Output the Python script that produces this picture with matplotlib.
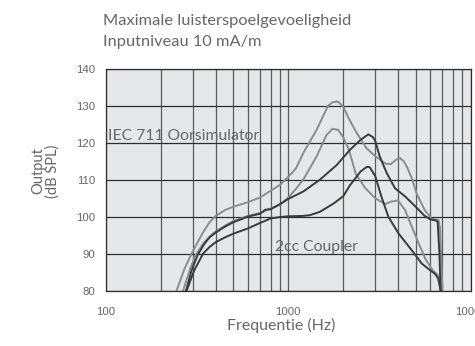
import matplotlib
matplotlib.use('Agg')
import matplotlib.pyplot as plt
from matplotlib.ticker import FixedLocator, NullFormatter

# IEC 711 Oorsimulator - bovenste (licht)
iec_hi_f  = [235, 244, 270, 295, 320, 345, 370, 400, 450, 500, 600, 700, 800, 900, 1000, 1100, 1207, 1430, 1650, 1750, 1870, 2000, 2180, 2373, 2690, 3000, 3400, 3650, 3900, 4100, 4300, 4470, 4800, 5050, 5600, 6100, 6670, 6800, 6950, 7050]
iec_hi_db = [78, 80, 86, 90, 93.3, 96.2, 98.5, 100.2, 101.8, 102.7, 103.9, 105.2, 107.0, 108.6, 110.8, 113.0, 117.2, 123.5, 130.0, 131.0, 131.2, 129.8, 126.0, 122.7, 118.5, 116.4, 114.4, 114.2, 115.4, 115.9, 115.0, 113.6, 110.0, 106.4, 101.8, 99.5, 99.1, 97.0, 85.0, 78]

# IEC 711 Oorsimulator - onderste (licht)
iec_lo_f  = [258, 265, 290, 310, 340, 370, 400, 450, 500, 600, 700, 800, 900, 1000, 1100, 1207, 1430, 1620, 1750, 1880, 2000, 2140, 2350, 2640, 3000, 3400, 3680, 4000, 4370, 4760, 5200, 5700, 6200, 6650, 6800, 6950, 7050]
iec_lo_db = [78, 80, 86, 89.6, 92.6, 94.6, 96.0, 97.6, 98.8, 100.2, 101.0, 102.2, 103.2, 105.2, 107.5, 110.0, 116.3, 122.1, 123.8, 123.5, 121.5, 118.5, 111.5, 107.8, 105.0, 103.4, 104.1, 104.4, 101.8, 97.3, 92.7, 88.2, 85.5, 84.1, 82.5, 80, 77]

# 2cc Coupler - bovenste (donker)
cc_hi_f  = [265, 275, 295, 318, 345, 370, 400, 450, 500, 600, 700, 750, 800, 900, 1000, 1207, 1490, 1845, 2180, 2490, 2750, 2920, 3000, 3170, 3470, 3850, 4370, 5000, 5600, 6000, 6490, 6600, 6750, 6850, 6950]
cc_hi_db = [78, 80, 85.5, 89.6, 92.5, 94.4, 95.7, 97.3, 98.5, 100.0, 100.8, 101.9, 102.0, 103.4, 104.8, 106.8, 110.0, 114.0, 118.1, 120.8, 122.3, 121.5, 120.5, 116.4, 111.8, 107.7, 105.5, 102.7, 100.2, 99.3, 98.9, 98.6, 90, 80, 77]

# 2cc Coupler - onderste (donker)
cc_lo_f  = [270, 277, 305, 341, 370, 400, 450, 500, 600, 700, 800, 900, 1000, 1200, 1313, 1490, 1765, 2000, 2180, 2490, 2700, 2800, 3000, 3240, 3540, 4020, 4760, 5400, 6000, 6390, 6650, 6850, 6950]
cc_lo_db = [78, 80, 85.5, 90, 91.8, 93.1, 94.4, 95.4, 96.8, 98.3, 99.5, 99.9, 100.1, 100.2, 100.4, 101.3, 103.5, 105.5, 108.5, 112.2, 113.5, 113.4, 111.0, 105.5, 100.0, 95.5, 90.9, 87.3, 85.5, 84.5, 83.2, 80, 77]

x_major = [100, 1000, 10000]
x_minor = [200, 300, 400, 500, 600, 700, 800, 900, 2000, 3000, 4000, 5000, 6000, 7000, 8000, 9000]
y_ticks = [80, 90, 100, 110, 120, 130, 140]

light = '#8c8c8c'
dark = '#3a3a3a'
txt = '#666666'
thin = 'Lato'

fig = plt.figure(figsize=(4.75, 3.46), dpi=100)
ax = fig.add_axes([0.2232, 0.1604, 0.7674, 0.6402])
ax.set_facecolor('#e6e7e8')
ax.set_xscale('log')
ax.set_xlim(100, 10000)
ax.set_ylim(80, 140)

ax.xaxis.set_major_locator(FixedLocator(x_major))
ax.xaxis.set_minor_locator(FixedLocator(x_minor))
ax.xaxis.set_minor_formatter(NullFormatter())
ax.set_xticklabels([str(v) for v in x_major])
ax.set_yticks(y_ticks)
ax.tick_params(axis='both', which='both', length=0, labelsize=8.2, labelcolor=txt)
ax.tick_params(axis='x', pad=12)
ax.tick_params(axis='y', pad=8)
for lab in ax.get_xticklabels() + ax.get_yticklabels():
    lab.set_fontfamily('Liberation Sans')

ax.grid(True, which='major', axis='y', color='#2e2e2e', lw=0.9)
ax.grid(True, which='both', axis='x', color='#5a5a5a', lw=0.9)
ax.set_axisbelow(True)
for s in ax.spines.values():
    s.set_color('#2e2e2e')
    s.set_linewidth(0.9)

ax.plot(iec_hi_f, iec_hi_db, color=light, lw=1.4)
ax.plot(iec_lo_f, iec_lo_db, color=light, lw=1.4)
ax.plot(cc_hi_f, cc_hi_db, color=dark, lw=1.4)
ax.plot(cc_lo_f, cc_lo_db, color=dark, lw=1.4)

ax.text(102.5, 121.9, 'IEC 711 Oorsimulator', fontsize=11.3, color=txt,
        family=thin, va='center', ha='left')
ax.text(845, 91.7, '2cc Coupler', fontsize=11.3, color=txt,
        family=thin, va='center', ha='left')

ax.set_xlabel('Frequentie (Hz)', fontsize=11.5, color=txt, family=thin)
ax.xaxis.set_label_coords(0.48, -0.156)
ax.xaxis.label.set_va('center')
ax.set_ylabel('Output\n(dB SPL)', fontsize=10.5, color=txt, family=thin, linespacing=1.0)
ax.yaxis.set_label_coords(-0.167, 0.54)
ax.yaxis.label.set_va('center')

fig.text(103 / 475, 1 - 25 / 346, 'Maximale luisterspoelgevoeligheid', fontsize=11.8,
         color=txt, family=thin, va='baseline')
fig.text(103 / 475, 1 - 46 / 346, 'Inputniveau 10 mA/m', fontsize=11.8,
         color=txt, family=thin, va='baseline')

fig.savefig('out.png', dpi=100)
